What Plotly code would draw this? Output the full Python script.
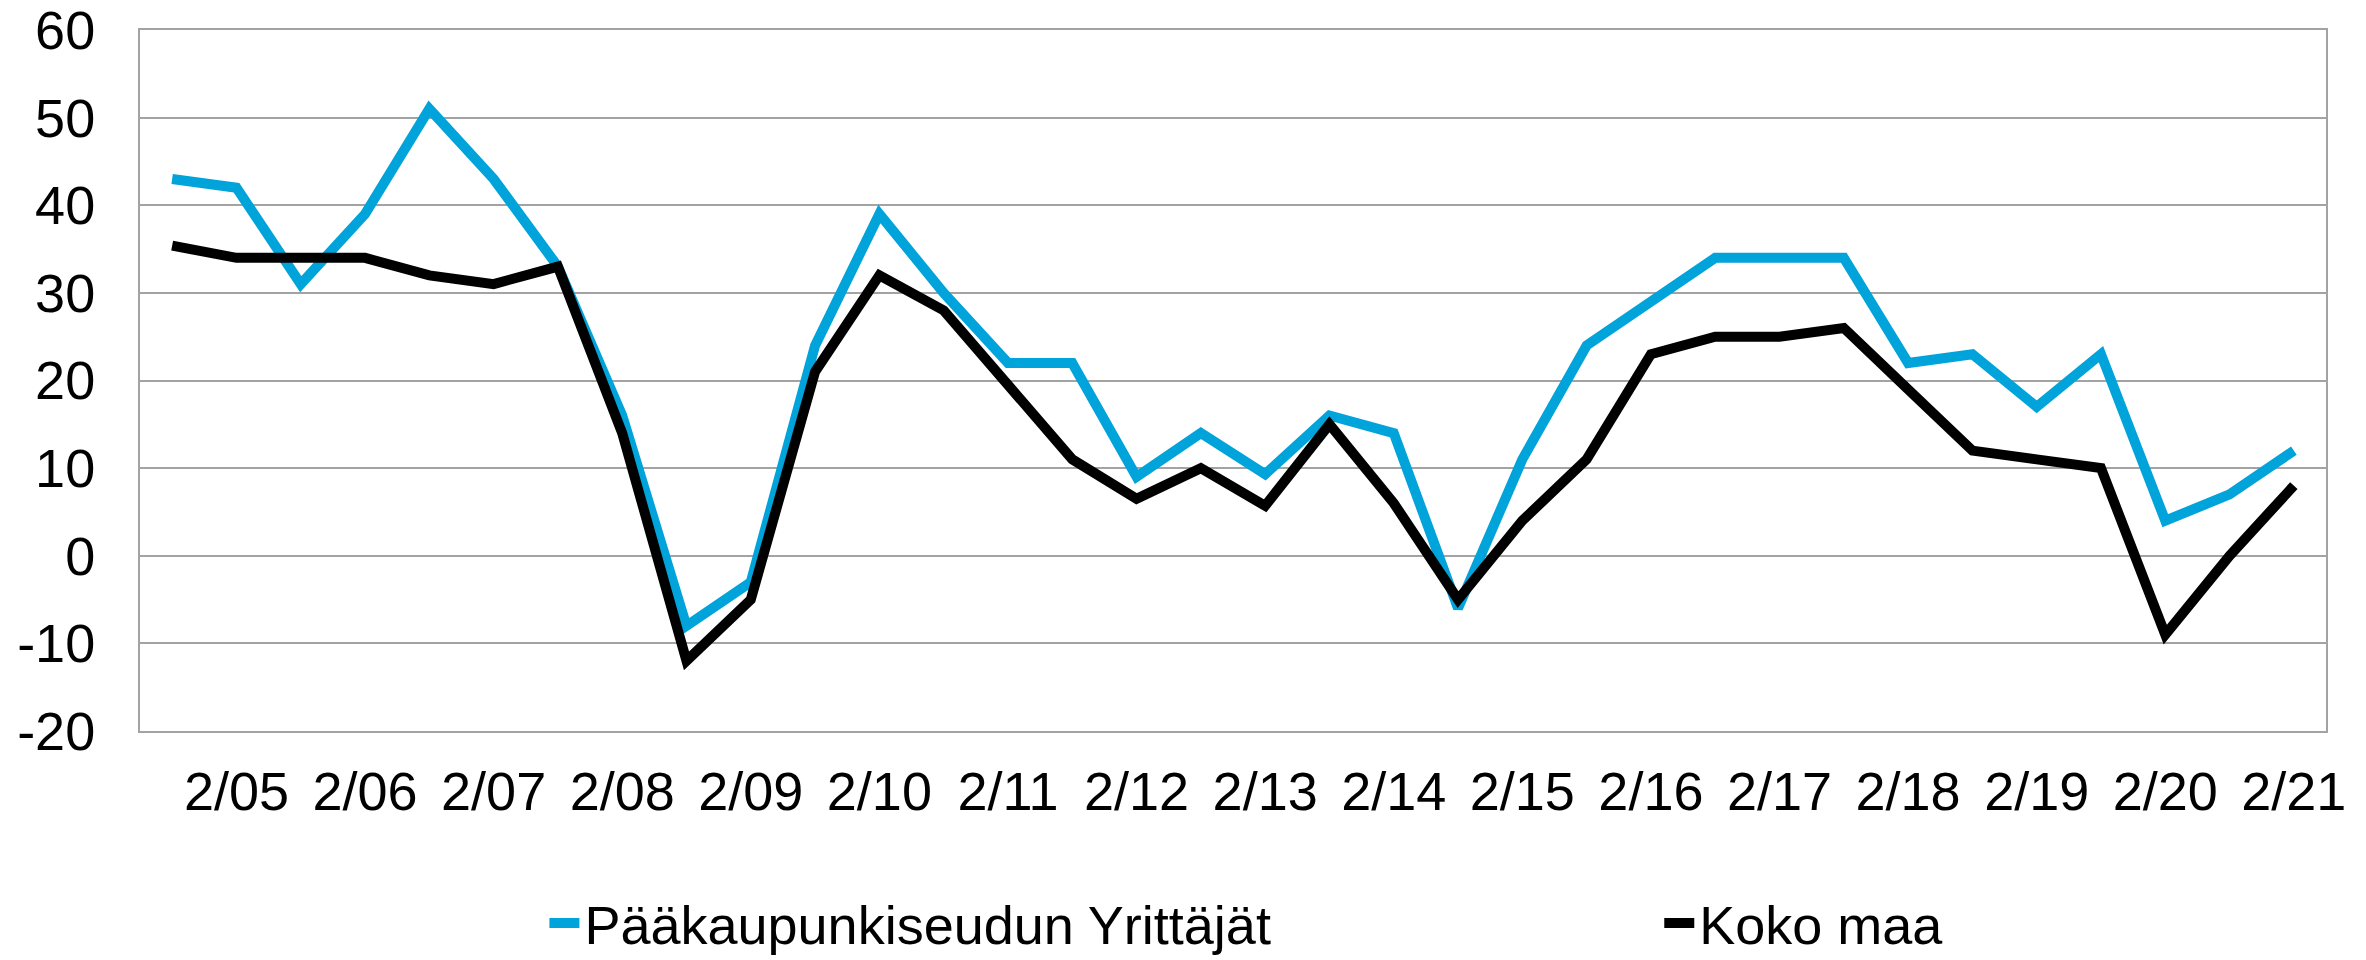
import plotly.graph_objects as go

# half-year survey rounds, 1/05 ... 2/21
categories = ['1/05', '2/05', '1/06', '2/06', '1/07', '2/07', '1/08', '2/08',
              '1/09', '2/09', '1/10', '2/10', '1/11', '2/11', '1/12', '2/12',
              '1/13', '2/13', '1/14', '2/14', '1/15', '2/15', '1/16', '2/16',
              '1/17', '2/17', '1/18', '2/18', '1/19', '2/19', '1/20', '2/20',
              '1/21', '2/21']
tick_labels = ['2/05', '2/06', '2/07', '2/08', '2/09', '2/10', '2/11', '2/12',
               '2/13', '2/14', '2/15', '2/16', '2/17', '2/18', '2/19', '2/20', '2/21']
y_ticks = [-20, -10, 0, 10, 20, 30, 40, 50, 60]
y_tick_text = ['-20', '-10', '0', '10', '20', '30', '40', '50', '60']

pks_values = [43, 42, 31, 39, 51, 43, 33, 16, -8, -3,
              24, 39, 30, 22, 22, 9, 14, 9.3, 16, 14,
              -6, 11, 24, 29, 34, 34, 34, 22, 23, 17,
              23, 4, 7, 12]
koko_values = [35.4, 34, 34, 34, 32, 31, 33, 14, -12, -5,
               21, 32, 28, 19.5, 11, 6.5, 10, 5.7, 15, 6,
               -5, 4, 11, 23, 25, 25, 26, 19, 12, 11,
               10, -9, 0, 8]

blue = '#00a3da'
grid = '#a3a3a3'
font = dict(family='Liberation Sans, Arial, sans-serif', size=54, color='black')

fig = go.Figure()
fig.add_trace(go.Scatter(x=categories, y=pks_values, mode='lines',
                         name='Pääkaupunkiseudun Yrittäjät', showlegend=True,
                         line=dict(width=10, color=blue), legend='legend'))
fig.add_trace(go.Scatter(x=categories, y=koko_values, mode='lines',
                         name='Koko maa', showlegend=True,
                         line=dict(width=10, color='black'), legend='legend2'))

fig.update_xaxes(type='category', categoryorder='array', categoryarray=categories,
                 tickmode='array', tickvals=tick_labels, ticktext=tick_labels,
                 showgrid=False, showline=True, linecolor=grid, linewidth=2, mirror=True,
                 ticks='', ticklabelstandoff=12, tickfont=font, range=[-0.5, 33.5],
                 automargin=False, ticklabeloverflow='allow')
fig.update_yaxes(range=[-20, 60], tickmode='array', tickvals=y_ticks, ticktext=y_tick_text,
                 showgrid=True, gridcolor=grid, gridwidth=2,
                 showline=True, linecolor=grid, linewidth=2, mirror=True,
                 zeroline=False, ticks='', ticklabelstandoff=32, tickfont=font,
                 automargin=False, ticklabeloverflow='allow')

fig.update_layout(
    width=2366, height=960,
    margin=dict(l=140, r=40, t=30, b=229),
    plot_bgcolor='white', paper_bgcolor='white',
    font=font, showlegend=True,
    legend=dict(visible=True, orientation='h', x=0.185, xanchor='left',
                yref='container', y=0.038, yanchor='middle',
                font=font, bgcolor='rgba(0,0,0,0)'),
    legend2=dict(visible=True, orientation='h', x=0.695, xanchor='left',
                 yref='container', y=0.038, yanchor='middle',
                 font=font, bgcolor='rgba(0,0,0,0)'),
)

# drop the default 8px body margin so the figure sits at the window's corner
fig.write_html("out.html", config={'displayModeBar': False},
               post_script="document.body.style.margin = '0';")
